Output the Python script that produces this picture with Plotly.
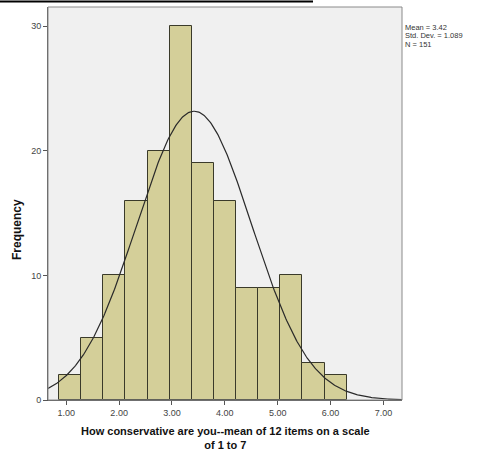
import numpy as np
import plotly.graph_objects as go

# ---- data ----
counts = [2, 5, 10, 16, 20, 30, 19, 16, 9, 9, 10, 3, 2]
bin_start = 0.862
bin_width = 0.4188
mean_val = 3.42
sd_val = 1.089
n_val = 151
x_ticks = [1, 2, 3, 4, 5, 6, 7]
x_tick_labels = ["1.00", "2.00", "3.00", "4.00", "5.00", "6.00", "7.00"]
y_ticks = [0, 10, 20, 30]
x_title = "How conservative are you--mean of 12 items on a scale<br>of 1 to 7"
y_title = "Frequency"
stats_text = ["Mean = 3.42", "Std. Dev. = 1.089", "N = 151"]

x_range = [0.654, 7.352]
y_range = [0, 31.53]

centers = [bin_start + bin_width * (i + 0.5) for i in range(len(counts))]

xs = np.linspace(x_range[0], x_range[1], 400)
ys = n_val * bin_width / (sd_val * np.sqrt(2 * np.pi)) * np.exp(-0.5 * ((xs - mean_val) / sd_val) ** 2)

FONT = "Liberation Sans, Arial, sans-serif"

fig = go.Figure()
fig.add_trace(go.Bar(
    x=centers, y=counts, width=bin_width,
    marker=dict(color="#D4CF99", line=dict(color="#3a3a2a", width=1)),
    hoverinfo="skip", showlegend=False,
))
fig.add_trace(go.Scatter(
    x=xs, y=ys, mode="lines",
    line=dict(color="#2a2a2a", width=1.2),
    hoverinfo="skip", showlegend=False,
))

L, R, T, B = 48, 77, 7, 52
W, H = 479, 452
pw = W - L - R
ph = H - T - B


def px_x(px):
    return (px - L) / pw


def px_y(py):
    return 1 - (py - T) / ph


fig.update_layout(
    width=W, height=H,
    margin=dict(l=L, r=R, t=T, b=B),
    paper_bgcolor="white",
    plot_bgcolor="#F0F0F0",
    bargap=0,
    font=dict(family=FONT, color="#333333"),
    xaxis=dict(
        range=x_range, tickvals=x_ticks, ticktext=x_tick_labels,
        ticks="outside", ticklen=4, tickcolor="#555555",
        tickfont=dict(size=9, color="#444444"),
        showgrid=False, zeroline=False, automargin=False,
        showline=True, linecolor="#555555", linewidth=1,
    ),
    yaxis=dict(
        range=y_range, tickvals=y_ticks,
        ticks="outside", ticklen=4, tickcolor="#555555",
        tickfont=dict(size=9, color="#444444"),
        showgrid=False, zeroline=False, automargin=False,
        showline=True, linecolor="#555555", linewidth=1,
    ),
    shapes=[
        dict(type="rect", xref="paper", yref="paper", x0=0, y0=0, x1=1, y1=1,
             line=dict(color="#8a8a8a", width=1), fillcolor="rgba(0,0,0,0)", layer="above"),
        dict(type="line", xref="paper", yref="paper",
             x0=px_x(0), x1=px_x(313),
             y0=px_y(1.5), y1=px_y(1.5),
             line=dict(color="black", width=2)),
    ],
)

# axis titles as annotations for exact placement
fig.add_annotation(
    xref="paper", yref="paper", x=px_x(225), y=px_y(423),
    xanchor="center", yanchor="top", text="<b>" + x_title + "</b>",
    showarrow=False, font=dict(size=11, color="#111111", family=FONT),
)
fig.add_annotation(
    xref="paper", yref="paper", x=px_x(17), y=px_y(230),
    xanchor="center", yanchor="middle", text="<b>" + y_title + "</b>",
    textangle=-90, showarrow=False, font=dict(size=12, color="#111111", family=FONT),
)

for i, t in enumerate(stats_text):
    fig.add_annotation(
        xref="paper", yref="paper",
        x=px_x(403), y=px_y(28 + 8 * i),
        xanchor="left", yanchor="middle",
        text=t, showarrow=False,
        font=dict(size=7.5, color="#333333", family=FONT),
    )

fig.write_html("out.html")
